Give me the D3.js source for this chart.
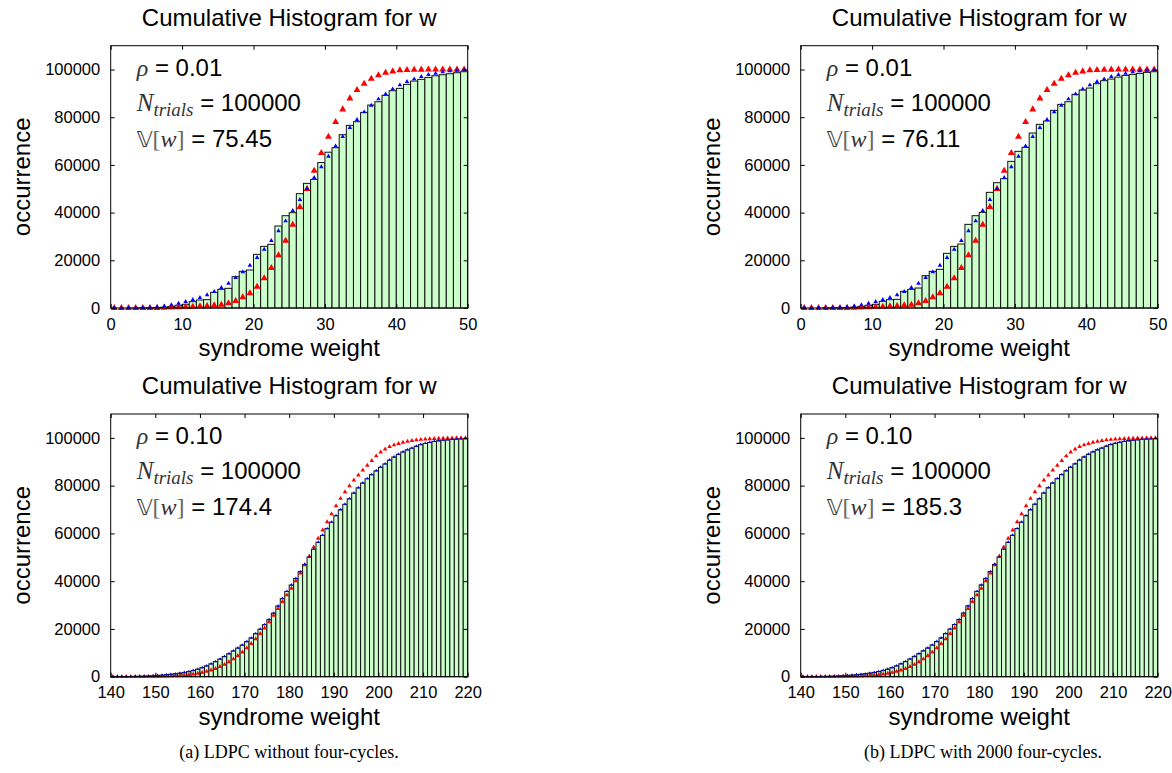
<!DOCTYPE html>
<html><head><meta charset="utf-8">
<script src="https://cdn.jsdelivr.net/npm/d3@7"></script>
<style>body{margin:0;background:#fff}svg{display:block}</style>
</head><body>
<svg id="c" width="1172" height="773"></svg>
<script>
// ---------- DATA ----------
const topStart = 0, topEnd = 50;          // syndrome weight bins, rho = 0.01
const bottomStart = 140, bottomEnd = 220; // syndrome weight bins, rho = 0.10
const topTicksX = [0, 10, 20, 30, 40, 50];
const bottomTicksX = [140, 150, 160, 170, 180, 190, 200, 210, 220];
const ticksY = [0, 20000, 40000, 60000, 80000, 100000];

// (a) rho = 0.01
const barsA1 = [0,0,0,10,30,80,180,350,650,1130,1550,2650,3350,3500,6570,7830,8250,13140,15370,15930,22500,25850,26700,34380,38710,39970,47940,52270,53950,61000,65340,67230,72680,76600,78130,82050,85120,86510,89180,91130,92110,93790,95180,95880,96700,97400,97830,98250,98670,99090];
const blueA1 = [5,10,30,70,150,280,480,800,1280,1960,2650,3490,4330,5450,6850,8530,10340,12720,15100,17890,21110,24600,28230,32290,36480,40810,45420,50030,54650,59190,63600,67930,71840,75610,78970,82180,84980,87640,89730,91830,93500,94900,96020,97000,97830,98400,98950,99370,99660,99800];
const redA1  = [0,0,0,0,5,15,40,90,180,300,420,560,700,880,1120,1400,1960,2940,4470,6150,8950,12440,16770,22080,28230,34940,42350,49900,57580,64990,71840,77990,83300,87910,91410,94060,96150,97560,98670,99230,99660,99850,99930,99970,99990,100000,100000,100000,100000,100000];
// (b) rho = 0.01
const barsB1 = [0,0,0,10,30,80,180,350,650,1120,1540,2800,3490,3630,7000,7830,8380,13560,15370,16210,22920,25850,26830,35080,38710,40110,48500,52550,54230,61500,65690,67370,73380,77010,78410,82880,85390,86510,89600,91410,92250,94060,95320,96010,96850,97550,97970,98390,98810,99090];
const blueB1 = [5,10,30,70,150,280,480,800,1280,1960,2650,3490,4330,5450,6850,8530,10340,12720,15100,17890,21110,24600,28230,32290,36480,40810,45420,50030,54650,59190,63600,67930,71840,75610,78970,82180,84980,87640,89730,91830,93500,94900,96020,97000,97830,98400,98950,99370,99660,99800];
const redB1  = [0,0,0,0,5,15,40,90,180,300,420,560,700,880,1120,1400,1960,2940,4470,6150,8950,12440,16770,22080,28230,34940,42350,49900,57580,64990,71840,77990,83300,87910,91410,94060,96150,97560,98670,99230,99660,99850,99930,99970,99990,100000,100000,100000,100000,100000];
// (a) rho = 0.10
const barsA2 = [20,40,50,80,100,140,190,250,330,420,540,680,850,1040,1250,1500,1790,2150,2600,3130,3800,4520,5380,6330,7380,8470,9620,10800,12000,13250,14700,16250,18000,19900,21800,23900,26600,29600,32700,35700,38400,41100,44000,47000,50100,53400,56300,59200,62000,64700,67400,69900,72200,74500,76900,79100,81100,82900,84600,86200,87700,89100,90700,92000,93100,94100,95000,95700,96500,97200,97700,98100,98500,98800,99050,99200,99350,99480,99580,99650];
const blueA2 = [30,40,60,80,110,150,200,260,340,440,560,700,870,1060,1280,1530,1820,2200,2650,3200,3850,4600,5450,6400,7450,8550,9700,10900,12100,13300,14800,16300,18100,20000,21900,24000,26700,29700,32800,35800,38500,41200,44100,47100,50200,53500,56400,59300,62100,64800,67500,70000,72300,74600,77000,79200,81200,83000,84700,86300,87800,89200,90800,92100,93200,94200,95100,95800,96600,97300,97800,98200,98600,98900,99150,99300,99450,99580,99680,99750];
const redA2  = [0,0,0,5,10,15,25,40,60,90,120,170,230,300,400,520,670,860,1100,1400,1750,2200,2750,3400,4200,5100,6200,7400,8800,10300,12000,13800,15800,18000,20300,22900,25700,28500,31400,34200,37000,40100,43300,46800,50500,54300,57900,61400,64850,68200,71500,74600,77400,79900,82300,84400,86500,88500,90500,92400,94000,95300,96300,97000,97600,98100,98500,98850,99100,99300,99450,99580,99680,99760,99830,99880,99920,99950,99980,100000];
// (b) rho = 0.10
const barsB2 = [20,40,60,80,110,140,190,260,330,430,550,690,860,1050,1270,1520,1800,2180,2630,3170,3830,4560,5420,6370,7420,8520,9660,10850,12050,13300,14750,16300,18050,19950,21850,23950,26650,29650,32750,35750,38450,41150,44050,47050,50150,53450,56350,59250,62050,64750,67450,69950,72250,74550,76950,79150,81150,82950,84650,86250,87750,89150,90750,92050,93150,94150,95050,95750,96550,97250,97750,98150,98550,98850,99100,99250,99400,99500,99600,99670];
const blueB2 = [30,40,60,80,110,150,200,260,340,440,560,700,870,1060,1280,1530,1820,2200,2650,3200,3850,4600,5450,6400,7450,8550,9700,10900,12100,13300,14800,16300,18100,20000,21900,24000,26700,29700,32800,35800,38500,41200,44100,47100,50200,53500,56400,59300,62100,64800,67500,70000,72300,74600,77000,79200,81200,83000,84700,86300,87800,89200,90800,92100,93200,94200,95100,95800,96600,97300,97800,98200,98600,98900,99150,99300,99450,99580,99680,99750];
const redB2  = [0,0,0,5,10,15,25,40,60,90,120,170,230,300,400,520,670,860,1100,1400,1750,2200,2750,3400,4200,5100,6200,7400,8800,10300,12000,13800,15800,18000,20300,22900,25700,28500,31400,34200,37000,40100,43300,46800,50500,54300,57900,61400,64850,68200,71500,74600,77400,79900,82300,84400,86500,88500,90500,92400,94000,95300,96300,97000,97600,98100,98500,98850,99100,99300,99450,99580,99680,99760,99830,99880,99920,99950,99980,100000];

const titleText = "Cumulative Histogram for w";
const xLabel = "syndrome weight", yLabel = "occurrence";
const rhoTexts = ["0.01", "0.01", "0.10", "0.10"];
const trialsText = "100000";
const varTexts = ["75.45", "76.11", "174.4", "185.3"];
const captions = ["(a) LDPC without four-cycles.", "(b) LDPC with 2000 four-cycles."];

// ---------- DRAW ----------
const svg = d3.select("#c");
const SANS = "'Liberation Sans', Arial, Helvetica, sans-serif";
const SERIF = "'Liberation Serif', 'Times New Roman', serif";
const yMax = 110000;

function panel(p) {
  const g = svg.append("g");
  const bins = d3.range(p.start, p.end);
  const x = d3.scaleLinear().domain([p.start, p.end]).range([p.left, p.right]);
  const y = d3.scaleLinear().domain([0, yMax]).range([p.bottom, p.top]);

  // bars
  g.append("g").selectAll("rect").data(p.bars).join("rect")
    .attr("x", (d, i) => x(bins[i]))
    .attr("width", (d, i) => x(bins[i] + 1) - x(bins[i]))
    .attr("y", d => y(d))
    .attr("height", d => y(0) - y(d))
    .attr("fill", "#ccffcc").attr("stroke", "#111").attr("stroke-width", 1);

  // red then blue triangles
  const sym = (s) => d3.symbol(d3.symbolTriangle, s)();
  g.append("g").selectAll("path").data(p.red).join("path")
    .attr("d", sym(p.redSize))
    .attr("transform", (d, i) => `translate(${x(bins[i] + 0.5)},${y(d)})`)
    .attr("fill", "#ff0000");
  g.append("g").selectAll("path").data(p.blue).join("path")
    .attr("d", sym(p.blueSize))
    .attr("transform", (d, i) => `translate(${x(bins[i] + 0.5)},${y(d)})`)
    .attr("fill", "#0000ff");

  // frame
  g.append("rect").attr("x", p.left).attr("y", p.top)
    .attr("width", p.right - p.left).attr("height", p.bottom - p.top)
    .attr("fill", "none").attr("stroke", "#000").attr("stroke-width", 1);

  // axes (inward ticks, mirrored)
  const axL = g.append("g").attr("transform", `translate(${p.left},0)`)
    .call(d3.axisLeft(y).tickValues(ticksY).tickSize(-4).tickPadding(10.5).tickFormat(d3.format("d")));
  const axR = g.append("g").attr("transform", `translate(${p.right},0)`)
    .call(d3.axisRight(y).tickValues(ticksY).tickSize(-4).tickFormat(""));
  const axB = g.append("g").attr("transform", `translate(0,${p.bottom})`)
    .call(d3.axisBottom(x).tickValues(p.xticks).tickSize(-4).tickPadding(10).tickFormat(d3.format("d")));
  const axT = g.append("g").attr("transform", `translate(0,${p.top})`)
    .call(d3.axisTop(x).tickValues(p.xticks).tickSize(-4).tickFormat(""));
  [axL, axR, axB, axT].forEach(a => {
    a.select(".domain").remove();
    a.selectAll("line").attr("stroke", "#000");
    a.selectAll("text").attr("font-family", SANS).attr("font-size", 16.5).attr("fill", "#000");
  });

  const cx = (p.left + p.right) / 2;
  // title
  g.append("text").attr("x", cx).attr("y", p.top - 20).attr("text-anchor", "middle")
    .attr("font-family", SANS).attr("font-size", 24).text(titleText);
  // x label
  g.append("text").attr("x", cx).attr("y", p.bottom + 48).attr("text-anchor", "middle")
    .attr("font-family", SANS).attr("font-size", 24).text(xLabel);
  // y label
  g.append("text").attr("transform", `translate(${p.left - 81},${(p.top + p.bottom) / 2}) rotate(-90)`)
    .attr("text-anchor", "middle").attr("font-family", SANS).attr("font-size", 24).text(yLabel);

  // annotations
  const ax = p.left + 26, math = "#333";
  const t1 = g.append("text").attr("x", ax).attr("y", p.top + 30).attr("font-family", SANS).attr("font-size", 24);
  t1.append("tspan").attr("font-family", SERIF).attr("font-style", "italic").attr("fill", math).attr("font-size", 24).text("ρ");
  t1.append("tspan").text(" = " + p.rho);
  const t2 = g.append("text").attr("x", ax).attr("y", p.top + 65).attr("font-family", SANS).attr("font-size", 24);
  t2.append("tspan").attr("font-family", SERIF).attr("font-style", "italic").attr("fill", math).attr("font-size", 25).text("N");
  t2.append("tspan").attr("font-family", SERIF).attr("font-style", "italic").attr("fill", math).attr("font-size", 19).attr("dy", 5).text("trials");
  t2.append("tspan").attr("dy", -5).text(" = " + trialsText);
  const t3 = g.append("text").attr("x", ax).attr("y", p.top + 101).attr("font-family", SANS).attr("font-size", 24);
  t3.append("tspan").attr("font-family", "'DejaVu Sans', sans-serif").attr("fill", math).attr("font-size", 22).text("𝕍");
  t3.append("tspan").attr("font-family", SERIF).attr("fill", "#666").attr("font-size", 24).text("[");
  t3.append("tspan").attr("font-family", SERIF).attr("font-style", "italic").attr("fill", math).attr("font-size", 24).text("w");
  t3.append("tspan").attr("font-family", SERIF).attr("fill", "#666").attr("font-size", 24).text("]");
  t3.append("tspan").text(" = " + p.vw);
}

const L = [110.7, 800.7], R = [467.7, 1157.7];
const T = [45.7, 414], B = [308, 676.7];
panel({start: topStart, end: topEnd, xticks: topTicksX, bars: barsA1, blue: blueA1, red: redA1,
  left: L[0], right: R[0], top: T[0], bottom: B[0], rho: rhoTexts[0], vw: varTexts[0], redSize: 21, blueSize: 9});
panel({start: topStart, end: topEnd, xticks: topTicksX, bars: barsB1, blue: blueB1, red: redB1,
  left: L[1], right: R[1], top: T[0], bottom: B[0], rho: rhoTexts[1], vw: varTexts[1], redSize: 21, blueSize: 9});
panel({start: bottomStart, end: bottomEnd, xticks: bottomTicksX, bars: barsA2, blue: blueA2, red: redA2,
  left: L[0], right: R[0], top: T[1], bottom: B[1], rho: rhoTexts[2], vw: varTexts[2], redSize: 9, blueSize: 4});
panel({start: bottomStart, end: bottomEnd, xticks: bottomTicksX, bars: barsB2, blue: blueB2, red: redB2,
  left: L[1], right: R[1], top: T[1], bottom: B[1], rho: rhoTexts[3], vw: varTexts[3], redSize: 9, blueSize: 4});

// captions
svg.append("text").attr("x", 289).attr("y", 758).attr("text-anchor", "middle")
  .attr("font-family", SERIF).attr("font-size", 18).text(captions[0]);
svg.append("text").attr("x", 983).attr("y", 758).attr("text-anchor", "middle")
  .attr("font-family", SERIF).attr("font-size", 18).text(captions[1]);
</script>
</body></html>
